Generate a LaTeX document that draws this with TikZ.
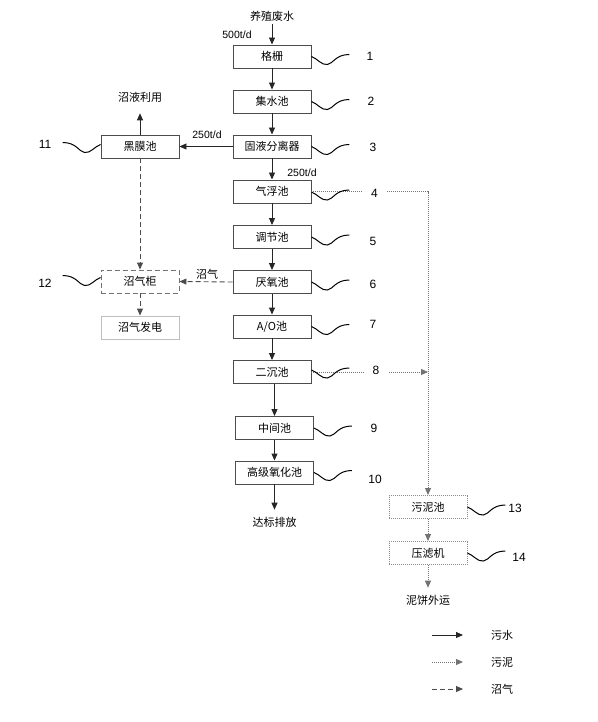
\documentclass[tikz,border=0pt]{standalone}
\usepackage{fontspec}
\setmainfont{Liberation Sans}
\newfontfamily\cjk{Noto Sans CJK SC}
\usetikzlibrary{arrows.meta,calc}
\begin{document}
\begin{tikzpicture}[x=1pt,y=-1pt,
  tip/.style={-{Triangle[length=7pt,width=6pt]}},
  box/.style={draw=black!70,line width=0.9pt,minimum width=78pt,minimum height=23pt,inner sep=0pt,font=\cjk\fontsize{11}{13}\selectfont},
  gbox/.style={box,draw=black!25},
  dbox/.style={box,draw=black!55,dash pattern=on 5pt off 3pt},
  tbox/.style={box,draw=black!45,dash pattern=on 1pt off 1pt},
  lbl/.style={font=\cjk\fontsize{11}{13}\selectfont,inner sep=1pt},
  num/.style={font=\fontsize{12}{14}\selectfont,inner sep=1pt},
  qty/.style={font=\fontsize{10.5}{12}\selectfont,inner sep=1pt},
  water/.style={tip,draw=black!85,line width=0.9pt},
  sludge/.style={draw=black!55,line width=0.9pt,dash pattern=on 1pt off 1pt},
  gas/.style={tip,draw=black!70,line width=0.9pt,dash pattern=on 5pt off 3pt},
  sqr/.pic={\draw[line width=1pt,black] (0,0) .. controls (6,2) and (10,9) .. (16,8) .. controls (22,7) and (24,-2) .. (38,-2);}
]
\useasboundingbox (0,0) rectangle (597,722);

% main column
\node[box] (b1) at (272,56.5) {格栅};
\node[box] (b2) at (272,101.5) {集水池};
\node[box] (b3) at (272,146.5) {固液分离器};
\node[box] (b4) at (272,191.5) {气浮池};
\node[box] (b5) at (272,237) {调节池};
\node[box] (b6) at (272,282) {厌氧池};
\node[box] (b7) at (272,326.5) {A/O池};
\node[box] (b8) at (272,372) {二沉池};
\node[box] (b9) at (274.5,428) {中间池};
\node[box] (b10) at (274.5,472.5) {高级氧化池};
% left column
\node[box] (b11) at (140,146.5) {黑膜池};
\node[dbox] (b12) at (140,281.5) {沼气柜};
\node[gbox] (gen) at (140,327.5) {沼气发电};
% right column
\node[tbox] (b13) at (428,507) {污泥池};
\node[tbox] (b14) at (428,553) {压滤机};

% texts
\node[lbl] (src) at (272,16) {养殖废水};
\node[qty] (q500) at (237,35) {500t/d};
\node[qty] (q250a) at (207,135) {250t/d};
\node[qty] (q250b) at (302,173) {250t/d};
\node[lbl] (use) at (140,97) {沼液利用};
\node[lbl] (gaslbl) at (207,274) {沼气};
\node[lbl] (out) at (274.5,522) {达标排放};
\node[lbl] (cake) at (428,600) {泥饼外运};

% water arrows
\draw[water] (src.south) ++(0,2) -- (b1.north);
\draw[water] (b1) -- (b2);
\draw[water] (b2) -- (b3);
\draw[water] (b3) -- (b4);
\draw[water] (b4) -- (b5);
\draw[water] (b5) -- (b6);
\draw[water] (b6) -- (b7);
\draw[water] (b7) -- (b8);
\draw[water] (b8.south -| b9.north) -- (b9.north);
\draw[water] (b9) -- (b10);
\draw[water] (b10.south) -- ($(out.north)+(0,-6)$);
\draw[water] (b3.west) -- (b11.east);
\draw[water] (b11.north) -- ($(use.south)+(0,10)$);

% gas arrows
\draw[gas] (b11.south) -- (b12.north);
\draw[gas] (b6.west) -- (b12.east);
\draw[gas] (b12.south) -- (gen.north);

% sludge
\coordinate (c4) at (b13.north |- b4.east);
\coordinate (c8) at (b13.north |- b8.east);
\draw[sludge,tip] (b4.east) -- (c4) -- (b13.north);
\draw[sludge,tip] (b8.east) -- (c8);
\draw[sludge,tip] (b13) -- (b14);
\draw[sludge,tip] (b14.south) -- ($(cake.north)+(0,-6)$);

% numbers
\node[num,fill=white,minimum width=24pt] (n4) at (374.5,193) {4};
\node[num,fill=white,minimum width=24pt] (n8) at (376,370) {8};
\node[num] (n1) at (370,56) {1};
\node[num] (n2) at (371,101) {2};
\node[num] (n3) at (373,147) {3};
\node[num] (n5) at (373,241) {5};
\node[num] (n6) at (373,284) {6};
\node[num] (n7) at (373,324) {7};
\node[num] (n9) at (374,428) {9};
\node[num] (n10) at (375,479) {10};
\node[num] (n11) at (45,144) {11};
\node[num] (n12) at (45,283) {12};
\node[num] (n13) at (515,508) {13};
\node[num] (n14) at (519,557) {14};

% squiggles
\foreach \b in {b1,b2,b3,b5,b6,b7,b9,b10,b13,b14} {\pic at ($(\b.east)+(0,0)$) {sqr};}
\pic at ($(b4.east)+(0,0.5)$) {sqr};
\pic at ($(b8.east)+(0,-2)$) {sqr};
\pic[xscale=-1] at ($(b11.west)+(0,-2)$) {sqr};
\pic[xscale=-1] at ($(b12.west)+(0,-4)$) {sqr};

% legend
\coordinate (l1a) at (432,635); \coordinate (l1b) at (463,635);
\coordinate (l2a) at (432,662); \coordinate (l2b) at (463,662);
\coordinate (l3a) at (432,689); \coordinate (l3b) at (463,689);
\draw[water] (l1a) -- (l1b);
\draw[sludge,tip] (l2a) -- (l2b);
\draw[gas] (l3a) -- (l3b);
\node[lbl] (lg1) at (502,635) {污水};
\node[lbl] (lg2) at (502,662) {污泥};
\node[lbl] (lg3) at (502,689) {沼气};
\end{tikzpicture}
\end{document}
